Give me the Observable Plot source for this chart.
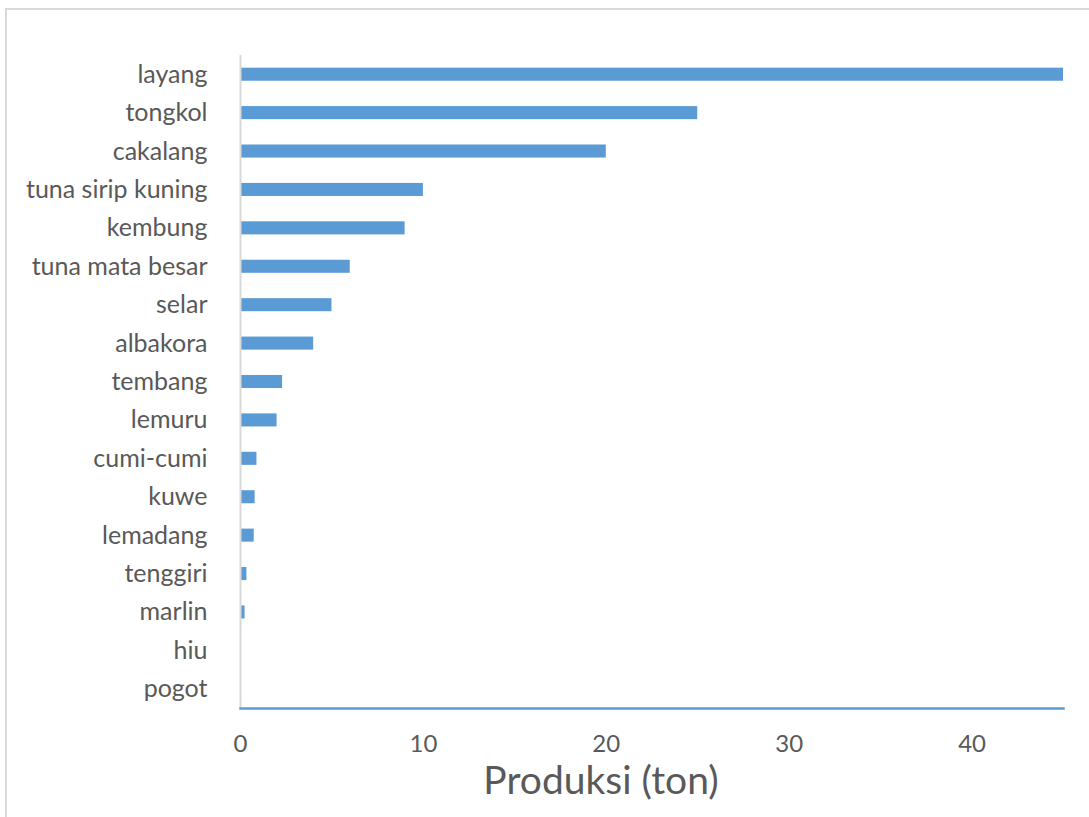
<!DOCTYPE html>
<html>
<head>
<meta charset="utf-8">
<script src="https://cdn.jsdelivr.net/npm/d3@7"></script>
<script src="https://cdn.jsdelivr.net/npm/@observablehq/plot@0.6"></script>
<style>
  html, body { margin: 0; padding: 0; background: #fff; }
  #chart { position: relative; width: 1089px; height: 817px; overflow: hidden; }
  #frame { position: absolute; left: 5px; top: 8px; width: 1100px; height: 830px; border: 2px solid #d9d9d9; box-sizing: border-box; }
  #chart svg { position: absolute; left: 0; top: 0; }
</style>
</head>
<body>
<div id="chart"><div id="frame"></div></div>
<script>
const species = ["layang", "tongkol", "cakalang", "tuna sirip kuning", "kembung", "tuna mata besar", "selar", "albakora", "tembang", "lemuru", "cumi-cumi", "kuwe", "lemadang", "tenggiri", "marlin", "hiu", "pogot"];
const produksi = [45, 25, 20, 10, 9, 6, 5, 4, 2.3, 2, 0.9, 0.8, 0.75, 0.35, 0.25, 0, 0];
const xTicks = [0, 10, 20, 30, 40];
const xTitle = "Produksi (ton)";

const data = species.map((s, i) => ({species: s, value: produksi[i]}));

const blue = "#5b9bd5";
const textColor = "#595959";

const chart = Plot.plot({
  width: 1089,
  height: 817,
  marginLeft: 240,
  marginRight: 26,
  marginTop: 55,
  marginBottom: 109,
  style: {fontFamily: "Lato, sans-serif", color: textColor, background: "transparent"},
  x: {domain: [0, 45], ticks: xTicks, label: null},
  y: {domain: species, paddingInner: 0.66, paddingOuter: 0.33, round: false, label: null},
  marks: [
    Plot.barX(data, {x: "value", y: "species", fill: blue}),
    Plot.ruleX([0], {stroke: "#d9d9d9", strokeWidth: 2}),
    Plot.frame({anchor: "bottom", stroke: blue, strokeWidth: 2.5, strokeOpacity: 1}),
    Plot.axisY({tickSize: 0, tickPadding: 33, fontSize: 25, fill: textColor}),
    Plot.axisX({ticks: xTicks, tickSize: 0, tickPadding: 26, fontSize: 24, fill: textColor, label: null}),
    Plot.text([xTitle], {frameAnchor: "bottom", dx: -51, dy: 85, fontSize: 39, fill: textColor})
  ]
});
document.getElementById("chart").appendChild(chart);
</script>
</body>
</html>
